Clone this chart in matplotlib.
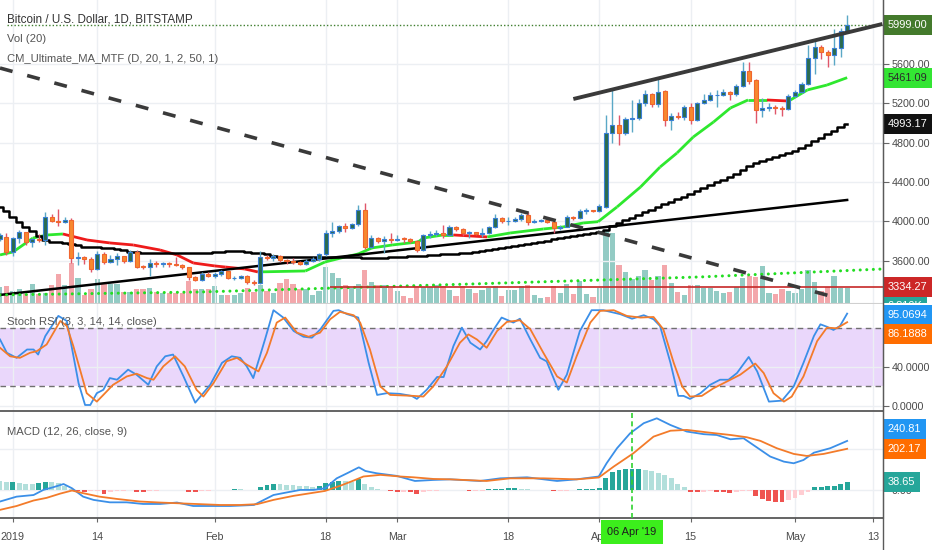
import numpy as np
import matplotlib
matplotlib.use('Agg')
import matplotlib.pyplot as plt
import matplotlib.transforms as mtrans
from matplotlib.collections import LineCollection
from matplotlib.lines import Line2D
from matplotlib import font_manager
from matplotlib.font_manager import FontProperties
from matplotlib.textpath import TextToPath

have = {f.name for f in font_manager.fontManager.ttflist}
FONT = 'Liberation Sans Narrow' if 'Liberation Sans Narrow' in have else 'Liberation Sans'
plt.rcParams['font.family'] = [FONT, 'DejaVu Sans']

# ---- data (day 0 = 1 Jan 2019, first candle = 30 Dec 2018) ----
first_day = -2
opens = [3820, 3840, 3685, 3826, 3890, 3787, 3820, 3805, 4040, 4005,
         3995, 4010, 3630, 3635, 3615, 3510, 3665, 3590, 3620, 3645,
         3600, 3690, 3540, 3535, 3580, 3565, 3575, 3565, 3560, 3535,
         3430, 3405, 3460, 3440, 3465, 3490, 3420, 3425, 3440, 3380,
         3370, 3640, 3630, 3650, 3605, 3595, 3585, 3570, 3600, 3615,
         3665, 3880, 3905, 3950, 3930, 3970, 4120, 3740, 3830, 3800,
         3820, 3810, 3825, 3820, 3800, 3710, 3860, 3870, 3880, 3860,
         3940, 3925, 3880, 3890, 3875, 3885, 3940, 4030, 4000, 4005,
         4025, 4065, 3990, 4005, 4010, 3995, 3930, 3945, 4040, 4030,
         4100, 4110, 4105, 4150, 4900, 4980, 4900, 5040, 5050, 5200,
         5290, 5190, 5330, 5030, 5070, 5060, 5160, 5030, 5200, 5230,
         5280, 5280, 5320, 5290, 5380, 5530, 5440, 5130, 5150, 5165,
         5150, 5140, 5270, 5320, 5400, 5660, 5770, 5720, 5690, 5760,
         5940]
closes = [3865, 3685, 3826, 3890, 3787, 3820, 3805, 4040, 4000, 3995,
          4010, 3630, 3635, 3615, 3510, 3665, 3590, 3620, 3645, 3600,
          3690, 3540, 3535, 3580, 3565, 3575, 3565, 3560, 3535, 3430,
          3405, 3460, 3440, 3465, 3490, 3420, 3425, 3440, 3380, 3370,
          3640, 3630, 3650, 3605, 3595, 3585, 3570, 3600, 3615, 3665,
          3880, 3905, 3950, 3930, 3970, 4120, 3740, 3830, 3800, 3820,
          3810, 3825, 3820, 3800, 3710, 3860, 3870, 3880, 3860, 3940,
          3925, 3880, 3890, 3875, 3885, 3940, 4030, 4000, 4005, 4025,
          4065, 3990, 4005, 4010, 3995, 3930, 3945, 4040, 4030, 4100,
          4110, 4105, 4160, 4900, 4980, 4900, 5040, 5050, 5200, 5290,
          5190, 5320, 5030, 5070, 5065, 5160, 5030, 5200, 5230, 5280,
          5285, 5320, 5290, 5380, 5530, 5430, 5130, 5150, 5165, 5150,
          5140, 5270, 5320, 5400, 5660, 5770, 5720, 5690, 5760, 5940,
          5999]
highs = [3880, 3880, 3845, 3910, 3895, 3830, 3875, 4090, 4070, 4130,
         4040, 4030, 3690, 3645, 3640, 3700, 3690, 3660, 3680, 3650,
         3710, 3710, 3560, 3620, 3600, 3590, 3590, 3640, 3570, 3540,
         3440, 3480, 3480, 3480, 3500, 3495, 3440, 3450, 3450, 3400,
         3700, 3660, 3670, 3660, 3620, 3630, 3600, 3620, 3640, 3680,
         3910, 3990, 3960, 3985, 3980, 4170, 4190, 3860, 3840, 3850,
         3880, 3860, 3840, 3835, 3810, 3870, 3900, 3910, 3960, 3960,
         3950, 3935, 3900, 3895, 3930, 3950, 4070, 4040, 4040, 4040,
         4080, 4090, 4020, 4020, 4020, 4000, 3960, 4060, 4050, 4130,
         4140, 4120, 4180, 5080, 5350, 5080, 5060, 5230, 5240, 5340,
         5300, 5470, 5340, 5100, 5110, 5180, 5200, 5210, 5290, 5320,
         5340, 5350, 5330, 5400, 5620, 5620, 5450, 5250, 5200, 5180,
         5170, 5290, 5340, 5420, 5790, 5840, 5790, 5740, 5960, 5970,
         6100]
lows = [3800, 3660, 3650, 3780, 3760, 3740, 3785, 3760, 3990, 3950,
        3980, 3580, 3560, 3570, 3480, 3500, 3570, 3580, 3560, 3580,
        3590, 3520, 3510, 3440, 3540, 3540, 3540, 3550, 3510, 3400,
        3390, 3390, 3430, 3420, 3440, 3410, 3400, 3410, 3360, 3350,
        3360, 3610, 3600, 3590, 3570, 3570, 3560, 3560, 3590, 3600,
        3650, 3840, 3880, 3890, 3920, 3950, 3720, 3730, 3780, 3680,
        3780, 3800, 3780, 3780, 3690, 3700, 3830, 3850, 3830, 3850,
        3900, 3850, 3830, 3860, 3840, 3870, 3930, 3980, 3960, 3990,
        4000, 3960, 3980, 3990, 3980, 3880, 3910, 3940, 4010, 4020,
        4070, 4090, 4090, 4140, 4800, 4780, 4880, 4910, 5030, 5170,
        5160, 5160, 4970, 4930, 5040, 5030, 4990, 5020, 5190, 5220,
        5160, 5270, 5230, 5270, 5370, 5400, 5000, 5060, 5120, 5090,
        5070, 5130, 5260, 5310, 5390, 5500, 5650, 5570, 5590, 5670,
        5930]
volume_k = [7.3, 7.7, 5.4, 6.4, 4.1, 8.6, 4.1, 4.5, 8.2, 13.2,
            8.2, 18.2, 11.4, 3.6, 6.4, 10.9, 8.6, 8.6, 8.6, 5.0,
            5.0, 6.4, 6.4, 6.8, 5.0, 4.5, 4.5, 4.5, 4.5, 10.0,
            6.4, 6.4, 6.4, 7.7, 3.6, 3.6, 3.6, 4.5, 6.8, 5.0,
            8.2, 5.4, 4.5, 9.1, 10.9, 8.6, 6.4, 6.4, 3.6, 5.4,
            16.3, 13.6, 11.4, 8.2, 6.8, 8.6, 15.0, 9.5, 8.2, 8.2,
            6.8, 5.4, 3.2, 2.3, 7.7, 7.3, 7.3, 8.2, 7.7, 5.9,
            3.2, 7.7, 6.4, 4.5, 5.9, 6.8, 7.7, 3.2, 5.9, 5.9,
            7.7, 8.2, 3.6, 2.3, 2.7, 7.7, 4.5, 8.6, 4.1, 10.0,
            4.1, 2.7, 6.8, 33.1, 31.8, 17.3, 14.1, 10.9, 12.3, 15.0,
            10.4, 12.3, 17.3, 9.1, 5.0, 3.6, 8.2, 8.2, 6.8, 6.8,
            5.4, 4.5, 5.0, 7.3, 11.4, 12.3, 11.8, 16.8, 4.5, 4.1,
            6.4, 5.4, 4.5, 6.4, 15.0, 9.5, 5.4, 7.3, 12.3, 6.8,
            6.81]
# slow (50) moving average, drawn as a step line
ma_slow = [4150, 4100, 4044, 3990, 3940, 3900, 3850, 3810, 3790, 3785,
           3780, 3770, 3755, 3742, 3738, 3735, 3732, 3729, 3720, 3705,
           3690, 3685, 3682, 3680, 3678, 3678, 3678, 3678, 3678, 3678,
           3678, 3680, 3682, 3685, 3692, 3698, 3698, 3695, 3690, 3682,
           3675, 3665, 3650, 3640, 3637, 3637, 3637, 3637, 3637, 3637,
           3637, 3637, 3637, 3637, 3635, 3632, 3630, 3628, 3627, 3627,
           3632, 3637, 3640, 3645, 3650, 3652, 3656, 3660, 3664, 3668,
           3672, 3675, 3678, 3690, 3700, 3710, 3720, 3729, 3740, 3750,
           3760, 3770, 3780, 3790, 3800, 3815, 3828, 3840, 3850, 3862,
           3872, 3881, 3890, 3912, 3950, 3983, 4010, 4037, 4062, 4090,
           4120, 4150, 4175, 4200, 4225, 4250, 4280, 4305, 4335, 4365,
           4395, 4425, 4450, 4485, 4520, 4560, 4590, 4615, 4635, 4650,
           4670, 4695, 4720, 4750, 4780, 4815, 4850, 4885, 4920, 4955,
           4993.17]
# fast (20) moving average, green when rising, red when falling
ma_fast_day = [-1.95, 0.05, 3.1, 5.3, 7.7, 11.4, 14.9, 18.5, 22.6, 25.2,
               27.7, 31.0, 32.6, 35.6, 37.6, 44.9, 47.9, 51.0, 53.0, 55.1,
               58.2, 62.2, 63.0, 66.0, 67.6, 72.8, 76.3, 81.4, 84.4, 87.5,
               89.8, 92.7, 96.3, 99.3, 101.9, 104.4, 107.5, 110.1, 112.8, 115.7,
               118.8, 119.3, 121.9, 124.9, 128.0]
ma_fast = [3658, 3688, 3830, 3861, 3871, 3810, 3780, 3759, 3708, 3658,
           3576, 3546, 3535, 3515, 3485, 3495, 3586, 3637, 3668, 3729,
           3759, 3790, 3830, 3861, 3861, 3841, 3881, 3922, 3942, 3983,
           3996, 4146, 4349, 4552, 4695, 4858, 5010, 5153, 5234, 5234,
           5224, 5234, 5336, 5386, 5461.09]

# drawn trend lines (day, price)
support_day, support_px = [-1.95, 128.0], [3251, 4217]
resist_day, resist_px = [86.0, 133.4], [5244, 6007]
falling_day, falling_px = [-1.95, 126.5], [5559, 3220]
dots_day = [-1.95, 28.7, 70.2, 105.5, 133.5]
dots_px = [3251, 3281, 3362, 3434, 3515]
last_price = 5999.00
level_price, level_start = 3334.27, 48.7

# Stoch RSI
stoch_k_day = [-1.95, -0.9, 0.6, 2.2, 3.2, 3.9, 5.0, 7.0, 8.3, 10.1,
               11.1, 11.9, 12.9, 13.9, 14.9, 16.0, 17.7, 19.0, 20.8, 22.1,
               23.4, 24.6, 26.2, 28.0, 30.3, 32.1, 33.6, 34.9, 35.9, 36.9,
               38.7, 40.0, 41.5, 43.1, 44.6, 45.9, 47.2, 49.2, 50.0, 51.3,
               53.0, 54.6, 55.9, 57.4, 59.4, 61.2, 62.0, 63.5, 65.1, 66.1,
               67.6, 68.9, 70.2, 71.7, 72.7, 73.8, 75.0, 76.8, 77.8, 79.4,
               80.9, 81.9, 83.7, 85.0, 87.0, 88.8, 90.6, 93.2, 95.0, 96.8,
               98.3, 99.3, 100.9, 102.1, 102.9, 103.9, 105.5, 107.0, 108.5, 109.8,
               111.1, 112.9, 114.2, 116.0, 118.0, 119.8, 121.3, 122.9, 123.9, 124.9,
               125.9, 126.9, 128.0]
stoch_k = [68.4, 54.6, 49.4, 58.0, 58.0, 52.8, 71.9, 92.7, 87.5, 23.3,
           0.7, 0.7, 12.9, 16.4, 28.5, 26.8, 37.2, 32.0, 21.6, 40.6,
           51.0, 52.8, 30.2, 3.1, 21.6, 44.2, 51.0, 49.4, 40.6, 28.5,
           68.4, 98.6, 91.0, 77.1, 71.2, 70.2, 78.9, 97.9, 98.6, 94.5,
           91.0, 44.2, 11.1, 12.9, 12.2, 10.1, 7.0, 16.4, 29.6, 29.6,
           61.5, 80.6, 65.0, 58.0, 66.7, 78.9, 91.0, 85.8, 89.8, 68.4,
           49.4, 45.8, 16.4, 32.0, 77.1, 98.6, 98.6, 94.5, 89.8, 93.4,
           89.3, 82.3, 44.2, 10.1, 10.1, 7.0, 12.9, 21.6, 26.8, 26.8,
           33.7, 50.3, 35.4, 4.2, 5.2, 19.8, 44.2, 71.9, 84.0, 81.5,
           78.2, 82.3, 95.07]
stoch_d_day = [-1.95, -0.4, 1.1, 2.65, 3.7, 5.2, 7.3, 8.3, 9.3, 11.35,
               12.9, 13.9, 15.4, 17.5, 19.0, 20.6, 21.6, 23.1, 24.9, 26.4,
               28.2, 29.25, 30.8, 32.8, 34.4, 35.9, 37.7, 39.0, 40.5, 41.8,
               43.6, 45.4, 47.15, 48.7, 50.2, 52.3, 53.3, 54.8, 56.4, 57.9,
               61.5, 63.0, 64.5, 66.6, 68.6, 69.9, 71.2, 72.7, 74.3, 75.8,
               77.8, 79.4, 81.4, 83.5, 85.0, 86.5, 88.6, 90.1, 92.2, 94.2,
               96.3, 98.3, 99.8, 101.4, 102.7, 103.9, 105.7, 107.5, 109.6, 111.6,
               113.9, 115.2, 116.7, 118.3, 119.5, 121.3, 123.4, 124.9, 126.4, 128.0]
stoch_d = [59.8, 51.0, 49.4, 54.6, 56.3, 63.2, 87.5, 82.3, 61.5, 12.9,
           4.2, 11.1, 21.6, 30.2, 33.0, 28.5, 26.8, 40.6, 51.0, 40.6,
           16.4, 9.4, 23.3, 45.8, 49.4, 42.4, 35.4, 54.6, 85.8, 91.0,
           75.4, 71.2, 75.4, 89.3, 96.9, 93.4, 85.8, 58.0, 19.8, 11.1,
           10.1, 9.4, 19.8, 40.6, 65.0, 73.6, 68.4, 59.8, 77.1, 86.5,
           88.2, 78.9, 54.6, 30.2, 23.9, 51.0, 85.8, 97.9, 98.6, 92.7,
           91.0, 91.6, 78.9, 44.2, 19.8, 9.4, 10.1, 18.0, 25.1, 32.0,
           43.5, 33.7, 12.9, 4.2, 9.4, 30.2, 66.7, 80.6, 79.9, 86.19]

# MACD
macd_day = [-1.95, 0.6, 3.2, 4.7, 6.2, 7.8, 9.1, 10.8, 12.4, 14.9,
            17.5, 20.0, 22.6, 25.2, 27.7, 30.8, 33.4, 37.0, 40.0, 42.1,
            44.1, 46.1, 47.9, 49.7, 51.3, 53.1, 54.1, 55.8, 58.9, 61.7,
            64.5, 67.1, 71.7, 74.8, 78.9, 83.5, 86.5, 89.9, 91.1, 92.7,
            94.7, 96.8, 98.8, 100.9, 103.4, 106.0, 108.0, 110.1, 112.1, 113.6,
            116.2, 118.3, 119.8, 121.3, 122.9, 125.4, 128.0]
macd = [-57, -33, -25, 0, 13, 29, 8, -33, -49, -61,
        -61, -69, -69, -62, -79, -79, -79, -74, -25, -12,
        0, 0, 8, 57, 82, 111, 93, 82, 69, 44,
        49, 52, 44, 57, 62, 44, 52, 66, 131, 205,
        278, 328, 352, 319, 287, 274, 270, 249, 254, 221,
        164, 139, 131, 147, 183, 205, 240.81]
signal_day = [-1.95, 0.6, 3.2, 5.2, 7.3, 9.1, 10.8, 13.3, 15.9, 19.5,
              22.6, 25.7, 28.8, 31.8, 34.9, 37.5, 40.0, 43.1, 47.9, 50.2,
              52.3, 53.8, 56.4, 59.4, 61.5, 64.5, 67.1, 72.7, 76.3, 81.4,
              86.5, 89.9, 92.2, 95.2, 98.3, 100.9, 103.4, 106.5, 110.1, 112.6,
              114.7, 117.2, 119.8, 121.8, 124.4, 128.0]
signal = [-98, -79, -52, -39, -18, -3, -16, -33, -44, -57,
          -62, -66, -70, -74, -74, -70, -49, -29, -5, 20,
          46, 66, 74, 66, 62, 54, 52, 44, 57, 57,
          52, 61, 115, 180, 262, 291, 295, 283, 270, 259,
          241, 205, 177, 167, 177, 202.17]
hist = [45, 40, 41, 35, 30, 28, 33, 40, 37, 35,
        20, 5, -5, -12, -7, -6, -20, -8, -5, -3,
        -2, -10, -12, -6, -3, -2, -1, -1, -2, -8,
        -9, -5, -3, -2, -1, 0, 3, 3, 1, 0,
        13, 23, 29, 28, 26, 24, 20, 17, 16, 20,
        36, 38, 46, 43, 41, 54, 29, 13, 3, 0,
        -3, -8, -8, -9, -20, -8, -5, -3, -2, -1,
        0, -2, -5, -5, -4, 3, 4, 5, 7, 8,
        6, 3, 2, 0, -2, -5, -5, -3, 2, 3,
        4, 5, 8, 57, 90, 98, 102, 104, 105, 100,
        93, 85, 74, 57, 29, 13, -8, -10, -10, -6,
        -10, -11, -16, -12, -5, -3, -30, -46, -52, -57,
        -58, -49, -41, -25, -8, 13, 16, 17, 20, 29,
        38.65]

tick_days = [0, 13, 31, 48, 59, 76, 90, 104, 120, 132]
tick_labels = ['2019', '14', 'Feb', '18', 'Mar', '18', 'Apr', '15', 'May', '13']
cursor_day, cursor_label = 95, "06 Apr '19"
title = 'Bitcoin / U.S. Dollar, 1D, BITSTAMP'

# ---- colours ----
UP_BODY, UP_EDGE, UP_WICK = '#2b6b4e', '#3a7fd6', '#5aa8c6'
DN_BODY, DN_EDGE, DN_WICK = '#f7882f', '#f0652e', '#e0566a'
VOL_UP, VOL_DN = '#93cbc4', '#f3a7ab'
GRID = '#eceff3'
BLUE, ORANGE = '#3b8fe8', '#f37b2a'
TXT = '#4a4a4a'

# font sizes: scale so the title spans about 181 px like the original
w10 = TextToPath().get_text_width_height_descent(title, FontProperties(family=FONT, size=10), ismath=False)[0]
FS_TITLE = 10 * (185 * 0.72) / w10
FS_LABEL = FS_TITLE * 0.97
FS_TICK = FS_TITLE * 0.93
FS_TAG = FS_TITLE * 0.95

days = np.arange(first_day, first_day + len(closes))
o, c, h, l = map(np.array, (opens, closes, highs, lows))
up = c >= o

W, H = 932, 550
def rect(top, bottom, right=883):
    return [0, 1 - bottom / H, right / W, (bottom - top) / H]

fig = plt.figure(figsize=(W / 100, H / 100), dpi=100)
ax_vol = fig.add_axes(rect(0, 303))
ax = fig.add_axes(rect(0, 303), sharex=ax_vol)
ax_st = fig.add_axes(rect(304, 411), sharex=ax_vol)
ax_md = fig.add_axes(rect(412, 518), sharex=ax_vol)
ax.patch.set_alpha(0)

# volume
ax_vol.bar(days, volume_k, width=0.8, color=np.where(up, VOL_UP, VOL_DN), linewidth=0)
ax_vol.set_ylim(0, 137.6)
ax_vol.axis('off')

# price pane
ax.set_ylim(3169, 6251)
pts = np.column_stack([ma_fast_day, ma_fast])
ax.add_collection(LineCollection(
    np.stack([pts[:-1], pts[1:]], axis=1),
    colors=np.where(np.diff(ma_fast) < 0, '#ee1b1b', '#2ee82e'), linewidths=2.0, zorder=3))
ax.plot(days, ma_slow, drawstyle='steps-mid', color='black', lw=1.8, zorder=3)
ax.plot(support_day, support_px, color='black', lw=1.8, zorder=3)
ax.plot(dots_day, dots_px, color='#22dd22', lw=2.2, ls=(0, (0.01, 2.14)),
        dash_capstyle='round', zorder=3)
ax.hlines(level_price, level_start, 133.5, color='#c62828', lw=1.2, zorder=3)
ax.hlines(last_price, -0.9, 133.5, color='#3f7f2f', lw=1.0, ls=(0, (1, 1.5)), zorder=3)

ax.vlines(days, l, h, colors=np.where(up, UP_WICK, DN_WICK), lw=1.0, zorder=4)
ax.bar(days, np.maximum(np.abs(c - o), 8), bottom=np.minimum(o, c), width=0.62,
       color=np.where(up, UP_BODY, DN_BODY), edgecolor=np.where(up, UP_EDGE, DN_EDGE),
       linewidth=0.8, zorder=5)

ax.plot(resist_day, resist_px, color='#3a3a3a', lw=2.8, solid_capstyle='butt', zorder=6)
ax.plot(falling_day, falling_px, color='#3a3a3a', lw=2.6, ls=(0, (3.6, 4.2)), zorder=6)

price_ticks = [3600, 4000, 4400, 4800, 5200, 5600]
ax.set_yticks(price_ticks)
ax.set_yticklabels(['%.2f' % v for v in price_ticks])

# stoch pane
ax_st.axhspan(20, 80, color='#ead7fb', lw=0, zorder=0)
for lvl in (20, 80):
    ax_st.axhline(lvl, color='#707070', lw=1.0, ls=(0, (4, 3)), zorder=1)
ax_st.plot(stoch_k_day, stoch_k, color=BLUE, lw=1.3, zorder=3)
ax_st.plot(stoch_d_day, stoch_d, color=ORANGE, lw=1.3, zorder=3)
ax_st.set_ylim(-5.5, 105)
ax_st.set_yticks([0, 40])
ax_st.set_yticklabels(['0.0000', '40.0000'])

# macd pane
hv = np.array(hist)
prev = np.concatenate([[hv[0] + 1], hv[:-1]])
hcol = np.where(hv >= 0, np.where(hv > prev, '#26a69a', '#b2dfdb'),
                np.where(hv < prev, '#ef5350', '#ffcdd2'))
ax_md.bar(days, hv, width=0.75, color=hcol, linewidth=0, zorder=2)
ax_md.plot(macd_day, macd, color=BLUE, lw=1.3, zorder=3)
ax_md.plot(signal_day, signal, color=ORANGE, lw=1.3, zorder=3)
ax_md.axvline(cursor_day, color='#2fd22f', lw=1.2, ls=(0, (3, 2)), zorder=4)
ax_md.set_ylim(-138, 383)
ax_md.set_yticks([0, 200])
ax_md.set_yticklabels(['0.00', ''])

# common axis styling
ax_md.set_xlim(-1.95, 133.5)
for a in (ax, ax_st, ax_md):
    a.set_axisbelow(True)
    a.grid(True, color=GRID, lw=1)
    a.yaxis.tick_right()
    a.tick_params(axis='y', length=4, width=0.8, pad=2.5, labelsize=FS_TICK,
                  color='#666', labelcolor=TXT)
    for s in ('top', 'left'):
        a.spines[s].set_visible(False)
    a.spines['right'].set_color('#5a5a5a')
    a.set_xticks(tick_days)
for a in (ax, ax_st):
    a.tick_params(axis='x', bottom=False, labelbottom=False)
ax.spines['bottom'].set_color('#d0d0d0')
for a in (ax_st, ax_md):
    a.spines['bottom'].set_color('#4a4a4a')
    a.spines['bottom'].set_linewidth(1.2)
ax_md.set_xticklabels(tick_labels)
ax_md.tick_params(axis='x', length=3, color='#666', pad=7, labelsize=FS_TICK, labelcolor=TXT)

# pane titles
ax.text(0.008, 0.937, title, transform=ax.transAxes,
        fontsize=FS_TITLE, color='#333333', va='center')
ax.text(0.008, 0.871, 'Vol (20)', transform=ax.transAxes, fontsize=FS_LABEL,
        color='#555555', va='center')
ax.text(0.008, 0.805, 'CM_Ultimate_MA_MTF (D, 20, 1, 2, 50, 1)', transform=ax.transAxes,
        fontsize=FS_LABEL, color='#555555', va='center')
ax_st.text(0.008, 0.83, 'Stoch RSI (3, 3, 14, 14, close)', transform=ax_st.transAxes,
           fontsize=FS_LABEL, color='#555555', va='center', zorder=5)
ax_md.text(0.008, 0.81, 'MACD (12, 26, close, 9)', transform=ax_md.transAxes,
           fontsize=FS_LABEL, color='#555555', va='center', zorder=5)

# price tags on the right scale (dy: pixel shift the chart applies to avoid overlaps)
def tag(a, y, text, fc, tc='white', dy=0, clip=None):
    tr = mtrans.offset_copy(mtrans.blended_transform_factory(a.transAxes, a.transData),
                            fig=fig, y=dy, units='dots')
    t = a.text(1.0 + 4.5 / 883, y, text, transform=tr, ha='left', va='center', fontsize=FS_TAG,
               color=tc, clip_on=False, zorder=10,
               bbox=dict(boxstyle='square,pad=0.45', fc=fc, ec='none'))
    if clip is not None:
        t.set_clip_on(True)
        t.set_clip_box(clip)
    return t

tag(ax, last_price, '%.2f' % last_price, '#447a2c')
tag(ax, ma_fast[-1], '%.2f' % ma_fast[-1], '#33e533', '#2a2a2a')
tag(ax, ma_slow[-1], '%.2f' % ma_slow[-1], '#111111')
tag(ax, level_price, '%.2f' % level_price, '#cc2727')
vol_clip = mtrans.TransformedBbox(mtrans.Bbox([[0, 0], [1.06, 1]]), ax_vol.transAxes)
tag(ax_vol, volume_k[-1], '%.3fK' % volume_k[-1], '#26a69a', dy=-18, clip=vol_clip)
tag(ax_st, stoch_k[-1], '95.0694', '#2196f3', dy=-1)
tag(ax_st, stoch_d[-1], '86.1888', '#ff6d00', dy=-12)
tag(ax_md, macd[-1], '%.2f' % macd[-1], '#2196f3', dy=12)
tag(ax_md, signal[-1], '%.2f' % signal[-1], '#ff6d00')
tag(ax_md, hist[-1], '%.2f' % hist[-1], '#26a69a')

# crosshair date label
ax_md.text(cursor_day, -0.135, cursor_label,
           transform=mtrans.blended_transform_factory(ax_md.transData, ax_md.transAxes),
           ha='center', va='center', fontsize=FS_TAG, color='#1e1e1e', clip_on=False, zorder=10,
           bbox=dict(boxstyle='square,pad=0.62', fc='#3cee1c', ec='none'))

fig.add_artist(Line2D([883 / W, 883 / W], [0, 1], transform=fig.transFigure,
                      color='#5a5a5a', lw=1))

fig.savefig('out.png', dpi=100, facecolor='white')
